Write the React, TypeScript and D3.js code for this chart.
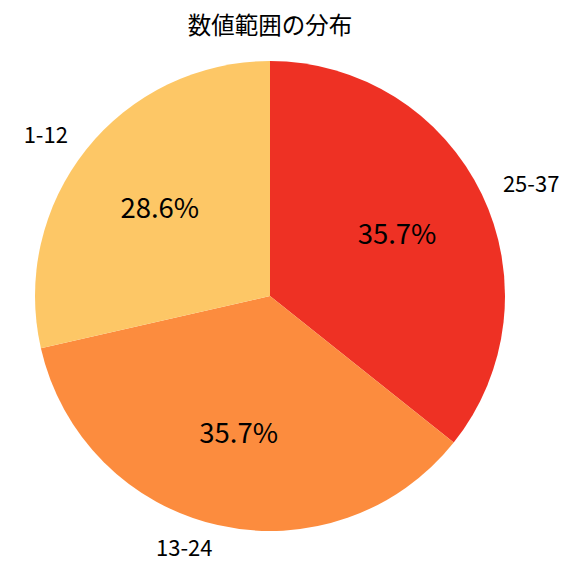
import * as d3 from 'd3';

const categories = ['25-37', '13-24', '1-12'];
const counts = [5, 5, 4];
const colors = ['#EE3124', '#FC8C3E', '#FDC766'];
const title = '数値範囲の分布';

const W = 576;
const H = 576;
const cx = 270;
const cy = 296;
const radius = 235;
const FONT = '"Noto Sans CJK JP", "Noto Sans", sans-serif';

type Slice = { name: string; value: number; color: string };

export default function App() {
  const data: Slice[] = categories.map((name, i) => ({ name, value: counts[i], color: colors[i] }));
  const total = d3.sum(counts);
  const pie = d3.pie<Slice>().value((d) => d.value).sort(null);
  const arcs = pie(data);
  const arc = d3.arc<d3.PieArcDatum<Slice>>().innerRadius(0).outerRadius(radius);

  const mid = (d: d3.PieArcDatum<Slice>) => (d.startAngle + d.endAngle) / 2;

  return (
    <svg
      width={W}
      height={H}
      viewBox={`0 0 ${W} ${H}`}
      style={{ position: 'absolute', left: 0, top: 0, background: '#fff' }}
    >
      <text x={270} y={34} textAnchor="middle" fontFamily={FONT} fontSize={23.5} fill="#000">
        {title}
      </text>
      <g transform={`translate(${cx},${cy})`}>
        {arcs.map((d) => (
          <path key={d.data.name} d={arc(d) ?? ''} fill={d.data.color} />
        ))}
        {arcs.map((d) => {
          const a = mid(d);
          const lx = Math.sin(a) * radius * 1.1;
          const ly = -Math.cos(a) * radius * 1.1;
          return (
            <text
              key={`l-${d.data.name}`}
              x={lx}
              y={ly}
              dy="0.35em"
              textAnchor={lx < 0 ? 'end' : 'start'}
              fontFamily={FONT}
              fontSize={22}
              fill="#000"
            >
              {d.data.name}
            </text>
          );
        })}
        {arcs.map((d) => {
          const a = mid(d);
          const px = Math.sin(a) * radius * 0.6;
          const py = -Math.cos(a) * radius * 0.6;
          return (
            <text
              key={`p-${d.data.name}`}
              x={px}
              y={py}
              dy="0.35em"
              textAnchor="middle"
              fontFamily={FONT}
              fontSize={27.5}
              fill="#000"
            >
              {`${((d.data.value / total) * 100).toFixed(1)}%`}
            </text>
          );
        })}
      </g>
    </svg>
  );
}
